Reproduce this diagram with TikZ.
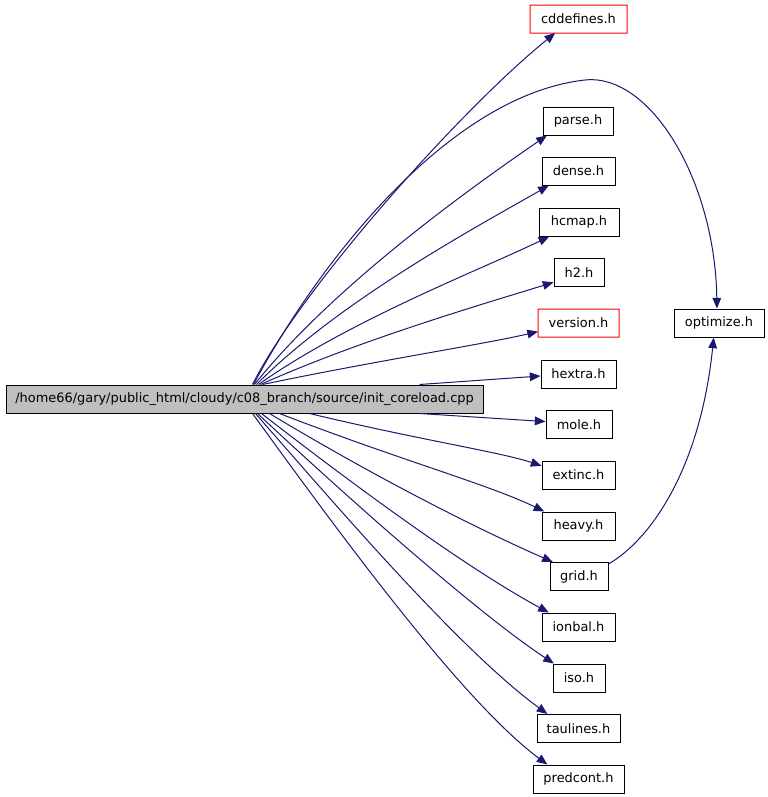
\documentclass[tikz,border=0pt]{standalone}
\usepackage{fontspec}
\setmainfont{DejaVu Sans}
\usetikzlibrary{arrows.meta,calc}
\definecolor{edgec}{HTML}{191970}
\definecolor{mainfill}{HTML}{BFBFBF}
\definecolor{redline}{HTML}{FF0000}
\begin{document}
\begin{tikzpicture}[x=0.75pt,y=-0.75pt,
  box/.style={draw=black,line width=0.75pt,minimum height=21pt,inner sep=0pt,fill=white,
    font=\fontsize{9.7pt}{11pt}\selectfont},
  redbox/.style={draw=none,outer sep=0pt,minimum height=21pt,inner sep=0pt,fill=white,
    font=\fontsize{9.7pt}{11pt}\selectfont},
  redframe/.style={fill=redline,even odd rule},
  edge/.style={draw=edgec,line width=0.75pt,-{Triangle[length=8pt,width=6.5pt]}}]
\useasboundingbox (0,0) rectangle (768,797);
\node[box,fill=mainfill,minimum width=357.75pt] (main) at (244.5,399) {/home66/gary/public\_html/cloudy/c08\_branch/source/init\_coreload.cpp};
\node[redbox,minimum width=72.75pt] (cddefines) at (578.5,19) {cddefines.h};
\fill[redframe] ($(cddefines.north west)+(-0.5,-0.5)$) rectangle ($(cddefines.south east)+(0.5,0.5)$)
  ($(cddefines.north west)+(0.5,0.5)$) rectangle ($(cddefines.south east)+(-0.5,-0.5)$);
\node[box,minimum width=52.5pt] (parse) at (578,121) {parse.h};
\node[box,minimum width=54.75pt] (dense) at (578.5,171) {dense.h};
\node[box,minimum width=60pt] (hcmap) at (579,222) {hcmap.h};
\node[box,minimum width=37.5pt] (h2) at (579,272.5) {h2.h};
\node[redbox,minimum width=60.75pt] (version) at (578.5,323) {version.h};
\fill[redframe] ($(version.north west)+(-0.5,-0.5)$) rectangle ($(version.south east)+(0.5,0.5)$)
  ($(version.north west)+(0.5,0.5)$) rectangle ($(version.south east)+(-0.5,-0.5)$);
\node[box,minimum width=67.5pt] (optimize) at (719,323) {optimize.h};
\node[box,minimum width=56.25pt] (hextra) at (578.5,374) {hextra.h};
\node[box,minimum width=49.5pt] (mole) at (579,424.5) {mole.h};
\node[box,minimum width=54.75pt] (extinc) at (578.5,475) {extinc.h};
\node[box,minimum width=54.75pt] (heavy) at (578.5,526) {heavy.h};
\node[box,minimum width=43.5pt] (grid) at (579,576.5) {grid.h};
\node[box,minimum width=54.75pt] (ionbal) at (578.5,627) {ionbal.h};
\node[box,minimum width=39pt] (iso) at (579,678) {iso.h};
\node[box,minimum width=62.25pt] (taulines) at (578.5,728.5) {taulines.h};
\node[box,minimum width=68.25pt] (predcont) at (578.5,779) {predcont.h};
\coordinate (optpeak) at (585,80);
\draw[edge] ($(main.north west)+(247,0)$) .. controls (300,290) and (460,110) .. (cddefines.211);
\draw[edge] ($(main.north west)+(248,0)$) .. controls (320,260) and (450,95) .. (optpeak) .. controls (650,73) and (715,180) .. (optimize.98);
\draw[edge] ($(main.north west)+(249,0)$) .. controls (330,290) and (460,195) .. (parse.205);
\draw[edge] ($(main.north west)+(251,0)$) .. controls (340,300) and (480,225) .. (dense.206);
\draw[edge] ($(main.north west)+(253,0)$) .. controls (350,320) and (480,270) .. (hcmap.206);
\draw[edge] ($(main.north west)+(255,0)$) .. controls (360,340) and (480,305) .. (h2.201);
\draw[edge] ($(main.north west)+(257,0)$) .. controls (380,360) and (480,345) .. (version.192.5);
\draw[edge] ($(main.north west)+(414,0)$) -- (hextra.183);
\draw[edge] ($(main.south west)+(414,0)$) -- (mole.175.7);
\draw[edge] ($(main.south west)+(304,0)$) .. controls (420,440) and (500,452) .. (extinc.166);
\draw[edge] ($(main.south west)+(274,0)$) .. controls (400,460) and (490,485) .. (heavy.157);
\draw[edge] ($(main.south west)+(264,0)$) .. controls (380,480) and (480,530) .. (grid.151);
\draw[edge] ($(main.south west)+(256,0)$) .. controls (360,490) and (470,570) .. (ionbal.154);
\draw[edge] ($(main.south west)+(252,0)$) .. controls (350,500) and (480,615) .. (iso.150);
\draw[edge] ($(main.south west)+(250,0)$) .. controls (340,510) and (460,650) .. (taulines.155);
\draw[edge] ($(main.south west)+(247,0)$) .. controls (330,520) and (460,700) .. (predcont.155);
\draw[edge] (grid.23) .. controls (650,540) and (700,470) .. (optimize.250);
\end{tikzpicture}
\end{document}
